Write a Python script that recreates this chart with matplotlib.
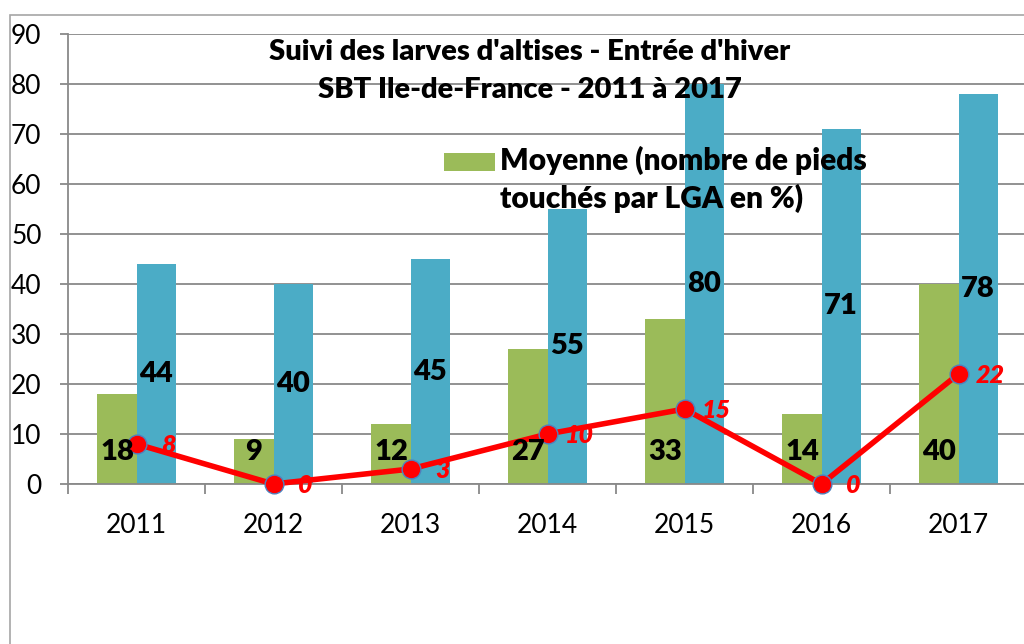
import numpy as np
import matplotlib
matplotlib.use("Agg")
import matplotlib.pyplot as plt
from matplotlib.patches import Rectangle

# data
years = ["2011", "2012", "2013", "2014", "2015", "2016", "2017"]
moyenne = [18, 9, 12, 27, 33, 14, 40]
maximum = [44, 40, 45, 55, 80, 71, 78]
minimum = [8, 0, 3, 10, 15, 0, 22]
y_ticks = [0, 10, 20, 30, 40, 50, 60, 70, 80, 90]
title_lines = ["Suivi des larves d'altises - Entrée d'hiver",
               "SBT Ile-de-France - 2011 à 2017"]
legend_lines = ["Moyenne (nombre de pieds", "touchés par LGA en %)"]

GREEN = "#9BBB59"
BLUE = "#4BACC6"
RED = "#FF0000"
GRID = "#898989"
BOLD = "heavy"

plt.rcParams["font.family"] = ["Lato", "DejaVu Sans"]

fig = plt.figure(figsize=(10.24, 6.44), dpi=100)

# outer chart frame (cropped on the right and bottom)
fig.patches.append(Rectangle((10 / 1024, -0.1), 1.2, (644 - 15) / 644 + 0.1,
                             transform=fig.transFigure, fill=False,
                             edgecolor="#A6A6A6", linewidth=1.2))

ax = fig.add_axes([68 / 1024, 160 / 644, 959 / 1024, 450 / 644])

x = np.arange(len(years))
w = 0.285
ax.bar(x - w / 2, moyenne, width=w, color=GREEN, zorder=2)
ax.bar(x + w / 2, maximum, width=w, color=BLUE, zorder=2)
ax.plot(x, minimum, color=RED, linewidth=4, marker="o", markersize=13.5,
        markerfacecolor=RED, markeredgecolor="#4F81BD", markeredgewidth=1.0,
        zorder=4, clip_on=False)

# data labels
for xi, v in zip(x, moyenne):
    ax.text(xi - w / 2, 6.4, str(v), ha="center", va="center",
            fontsize=21, fontweight=BOLD, color="black", zorder=5)
for xi, v in zip(x, maximum):
    ax.text(xi + w / 2, v / 2, str(v), ha="center", va="center",
            fontsize=21, fontweight=BOLD, color="black", zorder=5)
for xi, v in zip(x, minimum):
    ax.annotate(str(v), (xi, v), xytext=(23, -1), textcoords="offset points",
                ha="center", va="center", fontsize=18, fontweight=BOLD,
                fontstyle="italic", color=RED, zorder=5, annotation_clip=False)

ax.set_xlim(-0.5, len(years) - 0.5)
ax.set_ylim(0, 90)
ax.set_yticks(y_ticks)
ax.set_yticklabels([str(t) for t in y_ticks])
ax.set_xticks(x)
ax.set_xticklabels(years)
ax.set_xticks(np.arange(len(years) + 1) - 0.5, minor=True)

ax.yaxis.grid(True, color=GRID, linewidth=1.3, zorder=0)
ax.set_axisbelow(True)
for s in ["top", "right"]:
    ax.spines[s].set_visible(False)
for s in ["left", "bottom"]:
    ax.spines[s].set_color(GRID)
    ax.spines[s].set_linewidth(1.3)

ax.tick_params(axis="y", length=6, width=1.3, color=GRID, pad=13, labelsize=19)
ax.tick_params(axis="x", which="major", length=0, pad=21, labelsize=19)
ax.tick_params(axis="x", which="minor", length=7, width=1.3, color=GRID)

# title
fig.text(530 / 1024, 1 - 52 / 644, title_lines[0], ha="center", va="center",
         fontsize=21, fontweight=BOLD, zorder=6)
fig.text(530 / 1024, 1 - 90 / 644, title_lines[1], ha="center", va="center",
         fontsize=21, fontweight=BOLD, zorder=6)

# legend (only the visible entry)
fig.patches.append(Rectangle((444 / 1024, 1 - 171 / 644), 51 / 1024, 18 / 644,
                             transform=fig.transFigure, facecolor=GREEN,
                             edgecolor="none", zorder=6))
fig.text(500 / 1024, 1 - 170 / 644, legend_lines[0], ha="left", va="baseline",
         fontsize=21.5, fontweight=BOLD, zorder=6)
fig.text(500 / 1024, 1 - 208 / 644, legend_lines[1], ha="left", va="baseline",
         fontsize=21.5, fontweight=BOLD, zorder=6)

fig.savefig("out.png", dpi=100)
